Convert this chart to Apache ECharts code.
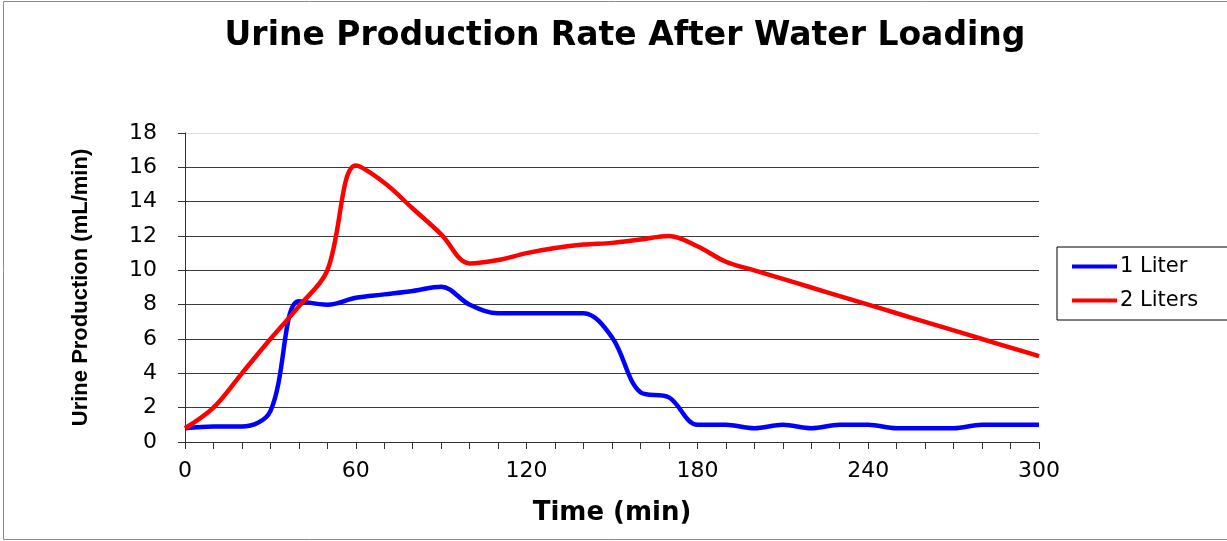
<!DOCTYPE html>
<html>
<head>
<meta charset="utf-8">
<script src="https://cdn.jsdelivr.net/npm/echarts@6/dist/echarts.min.js"></script>
<style>
html,body{margin:0;padding:0;background:#fff;}
#chart{width:1227px;height:541px;}
</style>
</head>
<body>
<div id="chart"></div>
<script>
var times = [0,10,20,30,40,50,60,70,80,90,100,110,120,130,140,150,160,170,180,190,200,210,220,230,240,250,260,270,280,290,300];
var oneLiter = [0.8,0.9,0.9,1.8,8.2,8.0,8.4,8.6,8.8,9.05,8.0,7.5,7.5,7.5,7.5,6.1,2.9,2.6,1.0,1.0,0.8,1.0,0.8,1.0,1.0,0.8,0.8,0.8,1.0,1.0,1.0];
var twoLiters = [0.8,2.0,4.0,6.0,7.9,10.0,16.1,15.1,13.6,12.1,10.4,10.6,11.0,11.3,11.5,11.6,11.8,12.0,11.4,10.5,10.0,9.5,9.0,8.5,8.0,7.5,7.0,6.5,6.0,5.5,5.0];
var xTicks = [0,60,120,180,240,300];
var yTicks = [0,2,4,6,8,10,12,14,16,18];
var seriesNames = ['1 Liter','2 Liters'];

function pairs(vals){ return times.map(function(t,i){ return [t, vals[i]]; }); }

var chart = echarts.init(document.getElementById('chart'), null, {renderer:'canvas'});
var gridColors = yTicks.map(function(v,i){ return i === yTicks.length-1 ? '#dddddd' : '#3a3a3a'; });
chart.setOption({
  animation:false,
  backgroundColor:'#fff',
  title:{
    text:'Urine Production Rate After Water Loading',
    left:620, textAlign:'center', top:15,
    textStyle:{fontFamily:'DejaVu Sans', fontWeight:'bold', fontSize:33, color:'#000'}
  },
  graphic:[{type:'rect', shape:{x:3.5,y:1.5,width:1240,height:538}, style:{fill:'none', stroke:'#8a8a8a', lineWidth:1}, z:-1}],
  legend:{
    left:1057, top:247,
    orient:'vertical',
    data:seriesNames,
    icon:'rect', itemWidth:45, itemHeight:4, itemGap:13,
    padding:[9,60,9,15],
    borderColor:'#000', borderWidth:1,
    textStyle:{fontFamily:'DejaVu Sans', fontSize:21, color:'#000', padding:[0,0,0,-2]}
  },
  grid:{left:185, right:188, top:133, bottom:99},
  xAxis:{
    type:'value', min:0, max:300, interval:60,
    name:'Time (min)', nameLocation:'middle', nameGap:58,
    nameTextStyle:{fontFamily:'DejaVu Sans', fontWeight:'bold', fontSize:26, color:'#000'},
    axisLine:{show:true, lineStyle:{color:'#333', width:1}},
    axisTick:{show:true, length:7, lineStyle:{color:'#333'}},
    minorTick:{show:true, splitNumber:6, length:7, lineStyle:{color:'#333'}},
    splitLine:{show:false},
    axisLabel:{fontFamily:'DejaVu Sans', fontSize:22, color:'#000', margin:18,
      customValues:xTicks},
  },
  yAxis:{
    type:'value', min:0, max:18, interval:2,
    name:'Urine Production (mL/min)', nameLocation:'middle', nameGap:93,
    nameTextStyle:{fontFamily:'Liberation Sans', fontWeight:'bold', fontSize:22, color:'#000'},
    axisLine:{show:true, lineStyle:{color:'#333', width:1}},
    axisTick:{show:true, length:7, lineStyle:{color:'#333'}},
    splitLine:{show:true, lineStyle:{color:gridColors, width:1}},
    axisLabel:{fontFamily:'DejaVu Sans', fontSize:22, color:'#000', margin:28}
  },
  series:[
    {name:seriesNames[0], type:'line', data:pairs(oneLiter), smooth:0.35, showSymbol:false, symbol:'none',
     lineStyle:{color:'#0000ff', width:4.5}, itemStyle:{color:'#0000ff'}, z:2},
    {name:seriesNames[1], type:'line', data:pairs(twoLiters), smooth:0.35, showSymbol:false, symbol:'none',
     lineStyle:{color:'#ff0000', width:4.5}, itemStyle:{color:'#ff0000'}, z:3}
  ]
});
</script>
</body>
</html>
